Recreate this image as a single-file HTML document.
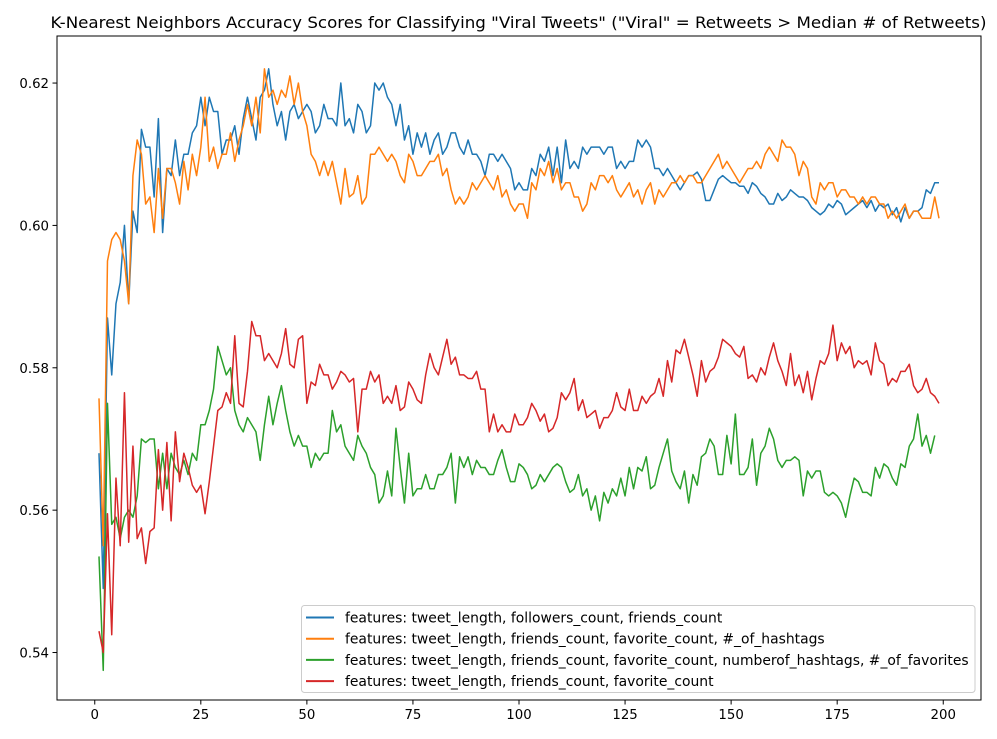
<!DOCTYPE html>
<html><head><meta charset="utf-8"><style>
html,body{margin:0;padding:0;background:#fff;}
svg{display:block;font-family:"DejaVu Sans","Liberation Sans",sans-serif;}
</style></head><body>
<svg id="chart" width="997" height="739" xmlns="http://www.w3.org/2000/svg">
<rect width="997" height="739" fill="#fff"/>
<text x="518.5" y="28" text-anchor="middle" font-size="16.2" textLength="936" lengthAdjust="spacingAndGlyphs" fill="#000">K-Nearest Neighbors Accuracy Scores for Classifying "Viral Tweets" ("Viral" = Retweets &gt; Median # of Retweets)</text>
<g id="series"></g>
<g id="axes"></g>
<rect x="57" y="36" width="924" height="664" fill="none" stroke="#000" stroke-width="1"/>
<g id="legend"></g>
</svg>
<script>
const xTicks=[0,25,50,75,100,125,150,175,200];
const yTicks=[0.54,0.56,0.58,0.60,0.62];
const yTickLabels=["0.54","0.56","0.58","0.60","0.62"];
const seriesNames=["features: tweet_length, followers_count, friends_count","features: tweet_length, friends_count, favorite_count, #_of_hashtags","features: tweet_length, friends_count, favorite_count, numberof_hashtags, #_of_favorites","features: tweet_length, friends_count, favorite_count"];
const colors=["#1f77b4","#ff7f0e","#2ca02c","#d62728"];
const blue=[0.568,0.549,0.587,0.579,0.589,0.592,0.600,0.589,0.602,0.599,0.6135,0.611,0.611,0.604,0.615,0.599,0.608,0.607,0.612,0.607,0.610,0.610,0.613,0.614,0.618,0.614,0.618,0.616,0.616,0.610,0.612,0.612,0.614,0.610,0.615,0.618,0.615,0.612,0.618,0.619,0.622,0.617,0.614,0.616,0.612,0.616,0.617,0.615,0.616,0.617,0.616,0.613,0.614,0.617,0.615,0.615,0.614,0.620,0.614,0.615,0.613,0.617,0.616,0.613,0.614,0.620,0.619,0.620,0.618,0.617,0.614,0.617,0.612,0.614,0.610,0.613,0.611,0.613,0.610,0.612,0.613,0.610,0.611,0.613,0.613,0.611,0.610,0.612,0.610,0.610,0.609,0.607,0.610,0.610,0.609,0.610,0.609,0.608,0.605,0.606,0.605,0.605,0.608,0.607,0.610,0.609,0.611,0.607,0.611,0.606,0.612,0.608,0.609,0.608,0.611,0.610,0.611,0.611,0.611,0.610,0.611,0.611,0.608,0.609,0.608,0.609,0.609,0.612,0.611,0.612,0.611,0.608,0.608,0.607,0.608,0.607,0.606,0.605,0.606,0.607,0.607,0.6075,0.6065,0.6035,0.6035,0.605,0.6065,0.607,0.6065,0.606,0.606,0.6055,0.6055,0.6045,0.606,0.6055,0.6045,0.604,0.603,0.603,0.6045,0.6035,0.604,0.605,0.6045,0.604,0.604,0.6035,0.6025,0.602,0.6015,0.602,0.603,0.6025,0.6035,0.603,0.6015,0.602,0.6025,0.603,0.6035,0.6025,0.6035,0.602,0.603,0.6025,0.603,0.6015,0.6025,0.6005,0.6025,0.601,0.602,0.602,0.6025,0.605,0.6045,0.606,0.606];
const orange=[0.5757,0.555,0.595,0.598,0.599,0.598,0.595,0.589,0.607,0.612,0.610,0.603,0.604,0.599,0.608,0.601,0.608,0.608,0.606,0.603,0.609,0.605,0.610,0.607,0.611,0.618,0.609,0.611,0.608,0.610,0.610,0.613,0.609,0.612,0.614,0.617,0.614,0.618,0.613,0.622,0.618,0.619,0.617,0.619,0.618,0.621,0.617,0.620,0.616,0.614,0.610,0.609,0.607,0.609,0.607,0.609,0.606,0.603,0.608,0.604,0.6045,0.607,0.603,0.604,0.610,0.610,0.611,0.610,0.609,0.610,0.609,0.607,0.606,0.610,0.609,0.607,0.607,0.608,0.609,0.609,0.610,0.607,0.608,0.605,0.603,0.604,0.603,0.604,0.606,0.605,0.606,0.607,0.606,0.605,0.607,0.604,0.605,0.603,0.602,0.603,0.603,0.601,0.606,0.605,0.608,0.607,0.609,0.606,0.608,0.605,0.606,0.606,0.604,0.604,0.602,0.603,0.606,0.605,0.607,0.607,0.606,0.607,0.605,0.604,0.605,0.606,0.604,0.605,0.603,0.605,0.606,0.603,0.605,0.604,0.605,0.606,0.606,0.607,0.606,0.607,0.607,0.606,0.606,0.607,0.608,0.609,0.610,0.608,0.609,0.608,0.607,0.606,0.607,0.608,0.608,0.609,0.608,0.610,0.611,0.610,0.609,0.612,0.611,0.611,0.610,0.607,0.609,0.608,0.604,0.603,0.606,0.605,0.606,0.606,0.604,0.605,0.605,0.604,0.604,0.603,0.604,0.603,0.604,0.604,0.603,0.603,0.601,0.602,0.601,0.602,0.603,0.601,0.602,0.602,0.601,0.601,0.601,0.604,0.601];
const green=[0.5535,0.5375,0.575,0.558,0.559,0.556,0.559,0.560,0.559,0.562,0.570,0.5695,0.570,0.570,0.563,0.568,0.563,0.568,0.566,0.565,0.567,0.565,0.568,0.567,0.572,0.572,0.574,0.577,0.583,0.581,0.579,0.580,0.574,0.572,0.571,0.573,0.572,0.571,0.567,0.572,0.576,0.572,0.575,0.5775,0.574,0.571,0.569,0.5705,0.569,0.569,0.566,0.568,0.567,0.568,0.568,0.574,0.571,0.572,0.569,0.568,0.567,0.5705,0.569,0.568,0.566,0.565,0.561,0.562,0.5655,0.562,0.5715,0.566,0.561,0.568,0.562,0.563,0.563,0.565,0.563,0.563,0.565,0.565,0.566,0.568,0.561,0.5675,0.566,0.5675,0.565,0.567,0.566,0.566,0.565,0.565,0.567,0.5685,0.566,0.564,0.564,0.5665,0.566,0.565,0.563,0.5635,0.565,0.564,0.565,0.566,0.5665,0.566,0.564,0.5625,0.563,0.565,0.562,0.563,0.560,0.562,0.5585,0.5625,0.561,0.563,0.562,0.5645,0.562,0.566,0.563,0.566,0.5655,0.5675,0.563,0.5635,0.566,0.568,0.570,0.5655,0.564,0.563,0.5655,0.561,0.565,0.5635,0.5675,0.568,0.570,0.569,0.565,0.565,0.5705,0.5665,0.5735,0.565,0.565,0.566,0.570,0.5635,0.568,0.569,0.5715,0.570,0.567,0.566,0.567,0.567,0.5675,0.567,0.562,0.5655,0.5645,0.5655,0.5655,0.5625,0.562,0.5625,0.562,0.561,0.559,0.562,0.5645,0.564,0.5625,0.5625,0.562,0.566,0.5645,0.5665,0.566,0.5645,0.5635,0.5665,0.566,0.569,0.570,0.5735,0.569,0.5705,0.568,0.5705];
const red=[0.543,0.540,0.5595,0.5425,0.5645,0.555,0.5765,0.5555,0.569,0.556,0.5575,0.5525,0.557,0.5575,0.5685,0.560,0.5695,0.5585,0.571,0.564,0.568,0.566,0.5635,0.5625,0.5635,0.5595,0.564,0.569,0.574,0.5745,0.5765,0.575,0.5845,0.575,0.5745,0.5795,0.5865,0.5845,0.5845,0.581,0.582,0.581,0.580,0.582,0.5855,0.5805,0.580,0.584,0.5845,0.575,0.578,0.5775,0.5805,0.579,0.579,0.577,0.578,0.5795,0.579,0.578,0.5785,0.571,0.577,0.577,0.5795,0.578,0.579,0.575,0.576,0.575,0.5775,0.574,0.5745,0.578,0.577,0.5755,0.575,0.579,0.582,0.580,0.579,0.5815,0.584,0.5805,0.5815,0.579,0.579,0.5785,0.5785,0.5795,0.577,0.577,0.571,0.5735,0.571,0.572,0.571,0.571,0.5735,0.572,0.572,0.573,0.575,0.574,0.5725,0.5735,0.571,0.5715,0.573,0.5765,0.5755,0.5765,0.5785,0.574,0.5755,0.573,0.5735,0.574,0.5715,0.573,0.573,0.574,0.5765,0.5745,0.574,0.577,0.574,0.574,0.576,0.575,0.576,0.5765,0.5785,0.576,0.581,0.578,0.5825,0.582,0.584,0.5815,0.579,0.576,0.581,0.578,0.5795,0.580,0.5815,0.584,0.5835,0.583,0.582,0.5815,0.583,0.5785,0.579,0.578,0.580,0.579,0.5815,0.5835,0.581,0.5795,0.5775,0.582,0.5775,0.579,0.5765,0.5795,0.5755,0.5785,0.581,0.5805,0.582,0.586,0.581,0.5835,0.582,0.583,0.580,0.581,0.5805,0.581,0.579,0.5835,0.581,0.5805,0.5775,0.5785,0.578,0.5795,0.5795,0.5805,0.5775,0.5765,0.577,0.5785,0.5765,0.576,0.575];

const NS="http://www.w3.org/2000/svg";
const L=57,R=981,T=36,B=700;
const xMin=-8.9,xMax=208.9,yMin=0.53333,yMax=0.62661;
function xs(v){return L+(v-xMin)/(xMax-xMin)*(R-L);}
function ys(v){return B-(v-yMin)/(yMax-yMin)*(B-T);}
const sg=document.getElementById('series');
const ag=document.getElementById('axes');
const lg=document.getElementById('legend');
const allSeries=[blue,orange,green,red];
const seriesKeys=['blue','orange','green','red'];
allSeries.forEach((arr,i)=>{
  const d=arr.map((v,j)=>(j?'L':'M')+xs(j+1).toFixed(2)+','+ys(v).toFixed(2)).join('');
  const p=document.createElementNS(NS,'path');
  p.setAttribute('d',d);p.setAttribute('fill','none');p.setAttribute('stroke',colors[i]);
  p.setAttribute('stroke-width','1.5');p.setAttribute('stroke-linejoin','round');
  
  
  sg.appendChild(p);
});
xTicks.forEach(t=>{
  const x=xs(t);
  const l=document.createElementNS(NS,'line');
  l.setAttribute('x1',x);l.setAttribute('x2',x);l.setAttribute('y1',B);l.setAttribute('y2',B+4.5);l.setAttribute('stroke','#000');
  
  
  ag.appendChild(l);
  const tx=document.createElementNS(NS,'text');
  tx.setAttribute('x',x);tx.setAttribute('y',B+19);tx.setAttribute('text-anchor','middle');tx.setAttribute('font-size','13.3');
  tx.textContent=String(t);
  
  
  ag.appendChild(tx);
});
yTicks.forEach((t,i)=>{
  const y=ys(t);
  const l=document.createElementNS(NS,'line');
  l.setAttribute('x1',L-4.5);l.setAttribute('x2',L);l.setAttribute('y1',y);l.setAttribute('y2',y);l.setAttribute('stroke','#000');
  
  
  ag.appendChild(l);
  const tx=document.createElementNS(NS,'text');
  tx.setAttribute('x',L-8);tx.setAttribute('y',y+5);tx.setAttribute('text-anchor','end');tx.setAttribute('font-size','13.3');
  tx.textContent=yTickLabels[i];
  
  
  ag.appendChild(tx);
});
const box=document.createElementNS(NS,'rect');
box.setAttribute('x',301.5);box.setAttribute('y',605.5);box.setAttribute('width',673.5);box.setAttribute('height',87);box.setAttribute('rx',3);
box.setAttribute('fill','#fff');box.setAttribute('fill-opacity','0.8');box.setAttribute('stroke','#ccc');


lg.appendChild(box);
seriesNames.forEach((n,i)=>{
  const y=617.5+i*21.2;
  const l=document.createElementNS(NS,'line');
  l.setAttribute('x1',306);l.setAttribute('x2',334);l.setAttribute('y1',y);l.setAttribute('y2',y);l.setAttribute('stroke',colors[i]);l.setAttribute('stroke-width','2');
  
  
  lg.appendChild(l);
  const tx=document.createElementNS(NS,'text');
  tx.setAttribute('x',345);tx.setAttribute('y',y+5);tx.setAttribute('font-size','13.9');
  tx.textContent=n;
  
  
  lg.appendChild(tx);
});
</script>
</body></html>
